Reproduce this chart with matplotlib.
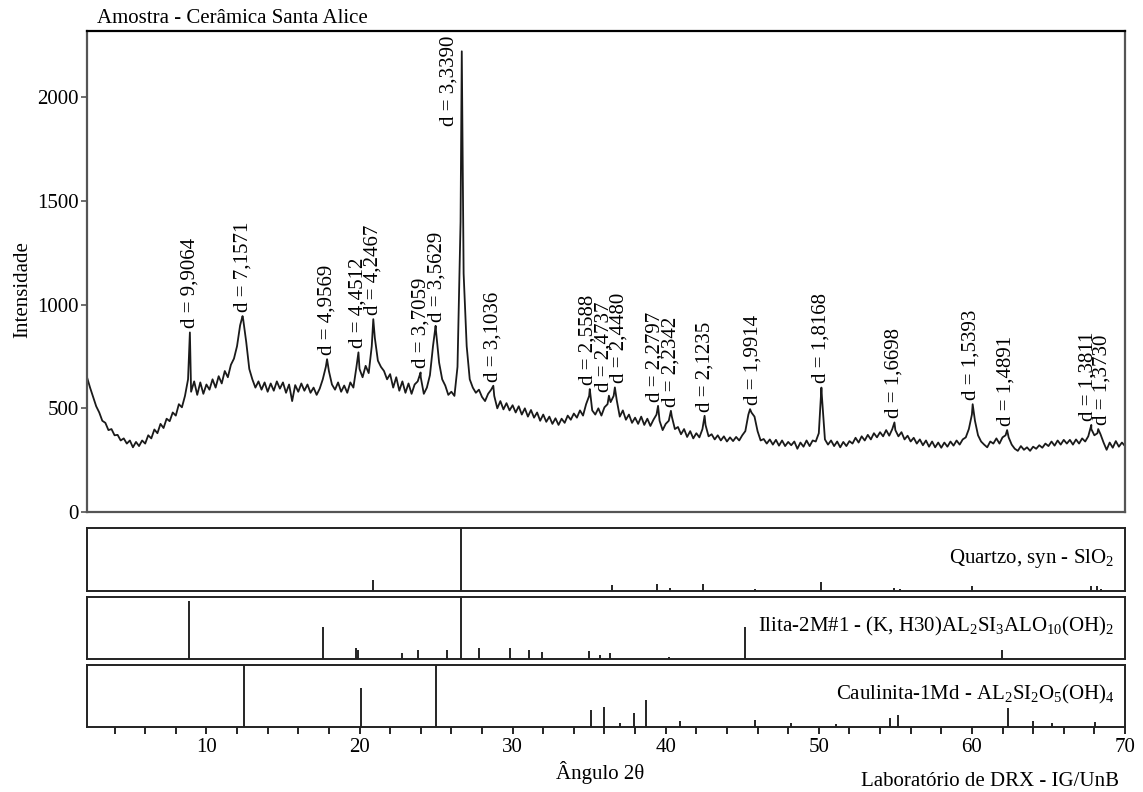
import numpy as np
import matplotlib
matplotlib.use('Agg')
import matplotlib.pyplot as plt
from matplotlib.ticker import MultipleLocator

plt.rcParams['font.family'] = ['Liberation Serif', 'DejaVu Serif']
plt.rcParams['mathtext.default'] = 'regular'

# ---------------- data ----------------
scan_start = 2.2   # degrees 2theta of first scan point
scan_step = 0.2    # degrees between scan points
scan_intensity = [
    650, 600, 555, 510, 480, 440, 430, 395, 400, 370,
    372, 345, 355, 330, 345, 312, 338, 318, 345, 330,
    370, 355, 398, 380, 425, 405, 450, 438, 480, 465,
    520, 505, 560, 640, 580, 630, 565, 625, 570, 615,
    590, 640, 600, 655, 620, 680, 650, 710, 740, 800,
    900, 930, 820, 690, 640, 600, 630, 590, 625, 580,
    620, 585, 630, 595, 625, 575, 615, 535, 612, 580,
    620, 585, 615, 575, 600, 565, 595, 640, 700, 680,
    615, 590, 625, 580, 610, 575, 625, 600, 700, 690,
    650, 705, 670, 800, 840, 730, 700, 680, 640, 665,
    600, 650, 585, 630, 575, 620, 570, 615, 630, 650,
    570, 600, 660, 800, 870, 720, 640, 610, 565, 580,
    560, 700, 1400, 1150, 800, 640, 600, 575, 590, 555,
    535, 570, 590, 560, 500, 535, 495, 525, 490, 515,
    480, 510, 470, 500, 460, 492, 455, 480, 440, 470,
    435, 460, 425, 452, 420, 450, 430, 465, 445, 475,
    455, 490, 465, 520, 560, 490, 470, 500, 465, 505,
    520, 530, 560, 540, 460, 490, 445, 470, 430, 455,
    425, 460, 420, 450, 415, 445, 470, 440, 395, 425,
    440, 460, 400, 410, 375, 400, 362, 390, 355, 380,
    360, 400, 420, 365, 375, 350, 370, 345, 365, 340,
    360, 342, 362, 345, 370, 390, 470, 480, 460, 390,
    345, 352, 330, 350, 325, 348, 320, 345, 318, 338,
    322, 340, 305, 335, 315, 345, 318, 345, 340, 380,
    560, 350, 325, 345, 318, 340, 312, 338, 318, 342,
    330, 358, 335, 365, 345, 372, 350, 380, 360, 385,
    365, 395, 368, 400, 395, 365, 385, 350, 368, 340,
    358, 330, 350, 322, 345, 315, 340, 312, 335, 310,
    335, 315, 340, 320, 345, 325, 350, 360, 400, 470,
    440, 370, 340, 325, 312, 340, 330, 355, 330, 360,
    370, 360, 325, 305, 295, 318, 300, 312, 295, 315,
    305, 322, 310, 330, 318, 340, 320, 345, 325, 348,
    330, 348, 325, 350, 330, 355, 340, 365, 400, 370,
    380, 375, 335, 300, 335, 310, 342, 315, 335, 318,
]

peak_d = [9.9064, 7.1571, 4.9569, 4.4512, 4.2467, 3.7059, 3.5629, 3.3390,
          3.1036, 2.5588, 2.4737, 2.4480, 2.2797, 2.2342, 2.1235, 1.9914,
          1.8168, 1.6698, 1.5393, 1.4891, 1.3811, 1.3730]
peak_2theta = [8.92, 12.36, 17.88, 19.93, 20.90, 23.99, 24.97, 26.68,
               28.74, 35.04, 36.29, 36.68, 39.50, 40.34, 42.54, 45.51,
               50.17, 54.94, 60.05, 62.30, 67.80, 68.25]
peak_intensity = [866, 945, 737, 770, 930, 673, 898, 2222,
                  609, 593, 561, 601, 512, 488, 464, 496,
                  600, 432, 520, 395, 420, 400]

quartz_2theta = [20.86, 26.64, 36.50, 39.45, 40.29, 42.42, 45.80, 50.14,
                 54.90, 55.30, 59.98, 67.78, 68.15, 68.45]
quartz_rel = [17.5, 100, 10, 11, 4, 11, 3, 15, 4, 3, 8.5, 8.5, 8.5, 3]

illite_2theta = [8.89, 17.62, 19.76, 19.89, 22.77, 23.82, 25.70, 26.65,
                 27.80, 29.82, 31.10, 31.90, 35.00, 35.70, 36.35, 40.20,
                 45.15, 61.95]
illite_rel = [93, 51, 18, 15, 9, 15, 15, 100, 18, 18, 14, 11, 13.5, 7, 9, 3,
              51, 15]

kaol_2theta = [12.43, 20.12, 24.97, 35.12, 36.00, 37.00, 37.90, 38.73,
               40.95, 45.80, 48.17, 51.10, 54.62, 55.18, 62.33, 64.02,
               65.20, 68.05]
kaol_rel = [100, 63, 100, 27, 32, 7, 22, 43, 9, 11, 7, 5, 14, 19, 31, 10, 7, 8]

panel_labels = ["Quartzo, syn - SlO$_2$",
                "Ilita-2M#1 - (K, H30)AL$_2$SI$_3$ALO$_{10}$(OH)$_2$",
                "Caulinita-1Md - AL$_2$SI$_2$O$_5$(OH)$_4$"]

# label layout nudges (degrees / intensity units)
label_dx = [0, 0, 0, 0, 0, 0, 0.1, -0.85, 0, -0.1, -0.3, 0.25, -0.2, 0, 0,
            0.2, 0, 0, -0.1, -0.1, -0.2, 0.28]
label_dy = [20] * len(peak_d)
label_dy[7] = 1860 - 2222

XMIN, XMAX = 2.2, 70.0
FS = 15

# ---------------- figure ----------------
fig = plt.figure(figsize=(11.43, 7.92), dpi=100)
W, H = 1143.0, 792.0

def rect(l, t, r, b):
    return [l / W, 1 - b / H, (r - l) / W, (b - t) / H]

ax = fig.add_axes(rect(87, 31, 1125, 512))
x_scan = scan_start + scan_step * np.arange(len(scan_intensity))
x_all = np.concatenate([x_scan, np.array(peak_2theta)])
y_all = np.concatenate([np.array(scan_intensity, float), np.array(peak_intensity, float)])
order = np.argsort(x_all, kind='stable')
ax.plot(x_all[order], y_all[order], color='#1a1a1a', lw=1.3)
ax.set_xlim(XMIN, XMAX)
ax.set_ylim(0, 2320)
ax.set_xticks([])
ax.set_yticks([0, 500, 1000, 1500, 2000])
ax.tick_params(axis='y', direction='out', length=4, width=1.2, colors='#555555',
               labelcolor='black', labelsize=FS, pad=2)
for side in ['left', 'bottom', 'right']:
    ax.spines[side].set_color('#555555')
    ax.spines[side].set_linewidth(1.6)
ax.spines['top'].set_color('black')
ax.spines['top'].set_linewidth(1.6)

for d, p, h, dx, dy in zip(peak_d, peak_2theta, peak_intensity, label_dx, label_dy):
    txt = ("d = %.4f" % d).replace('.', ',')
    ax.text(p + dx, h + dy, txt, rotation=90, ha='center', va='bottom', fontsize=FS)

panels = [
    (rect(87, 528, 1125, 591), quartz_2theta, quartz_rel, panel_labels[0]),
    (rect(87, 597, 1125, 659), illite_2theta, illite_rel, panel_labels[1]),
    (rect(87, 665, 1125, 727), kaol_2theta, kaol_rel, panel_labels[2]),
]
pax = []
for r, xs, hs, lab in panels:
    a = fig.add_axes(r)
    a.vlines(xs, 0, hs, color='black', lw=1.2)
    a.set_xlim(XMIN, XMAX)
    a.set_ylim(0, 100)
    a.set_yticks([])
    a.set_xticks([])
    for s in a.spines.values():
        s.set_linewidth(1.4)
        s.set_color('#222222')
    a.text(0.99, 0.45, lab, transform=a.transAxes, ha='right', va='baseline', fontsize=FS)
    pax.append(a)

bot = pax[-1]
bot.xaxis.set_major_locator(MultipleLocator(10))
bot.xaxis.set_minor_locator(MultipleLocator(2))
bot.tick_params(axis='x', which='both', direction='out', length=5, width=1.2,
                labelsize=FS, pad=3)

fig.text(97 / W, 1 - 23 / H, 'Amostra - Cerâmica Santa Alice', ha='left', va='baseline', fontsize=FS)
fig.text(23 / W, 1 - 290 / H, 'Intensidade', rotation=90, ha='center', va='center', fontsize=FS)
fig.text(600 / W, 1 - 773 / H, 'Ângulo 2θ', ha='center', va='center', fontsize=FS)
fig.text(1119 / W, 1 - 781 / H, 'Laboratório de DRX - IG/UnB', ha='right', va='center', fontsize=FS)

fig.savefig('out.png', dpi=100)
